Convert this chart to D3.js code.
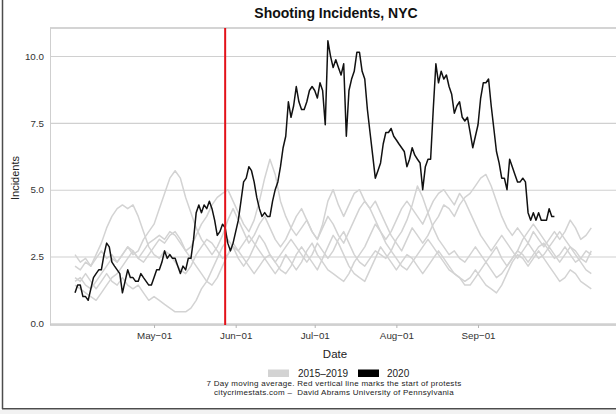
<!DOCTYPE html>
<html><head><meta charset="utf-8">
<script src="https://cdn.jsdelivr.net/npm/d3@7"></script>
<style>
body{margin:0;background:#fff;}
svg{display:block;font-family:"Liberation Sans",Arial,Helvetica,sans-serif;}
</style>
</head><body><svg id="chart" width="616" height="414"></svg>
<script>
const chartTitle = "Shooting Incidents, NYC";
const yTitle = "Incidents";
const xTitle = "Date";
const start2020 = "2020-04-01";
const values2020 = [
1.14,1.43,1.43,1.0,1.0,0.86,1.29,1.71,1.86,2.0,
2.0,2.57,3.0,2.86,2.29,2.14,2.0,1.86,1.14,1.57,
2.0,1.71,1.71,1.57,1.57,1.86,1.71,1.57,1.43,1.43,
1.71,2.0,2.0,2.29,2.71,2.43,2.57,2.43,2.43,2.14,
1.86,2.14,2.0,2.43,2.43,3.14,4.14,4.43,4.14,4.43,
4.29,4.57,4.29,3.86,3.29,3.43,3.71,3.57,3.0,2.71,
3.0,3.43,3.86,4.57,5.29,5.43,5.86,5.71,5.29,4.71,
4.29,4.0,4.14,4.0,4.0,4.57,5.0,5.29,5.86,6.57,
7.0,8.29,7.71,8.14,8.86,8.29,8.0,8.0,8.29,8.71,
8.86,8.71,8.43,9.0,8.71,7.43,10.57,10.0,9.57,9.86,
9.57,9.29,9.71,7.0,8.71,9.14,9.43,10.14,10.14,9.43,
9.14,8.0,7.14,6.29,5.43,5.71,6.0,6.71,7.14,7.14,
7.29,7.0,6.86,6.71,6.57,6.43,5.86,6.14,6.57,6.29,
6.14,6.0,5.0,5.86,6.14,6.14,8.0,9.71,9.0,9.43,
9.14,9.29,8.86,8.57,7.86,8.14,8.29,7.71,7.57,7.71,
7.14,6.57,7.0,7.43,8.43,9.0,9.0,9.14,8.14,7.29,
6.43,6.0,5.43,5.43,5.0,6.14,5.86,5.57,5.29,5.29,
5.43,5.29,4.14,3.86,4.14,3.86,4.14,3.86,3.86,3.86,
4.29,4.0,4.0];

const grayStart = "2020-04-01";
const grayStepDays = 2;
const grayYears = ["2015","2016","2017","2018","2019"];
const gray2015 = [
2.57,2.29,2.43,2.14,2.57,3.0,3.57,4.0,4.29,4.43,
4.29,4.43,4.0,3.43,2.86,2.57,2.43,2.71,2.57,2.29,
2.0,1.86,2.14,2.57,2.86,3.14,3.0,2.71,2.43,2.57,
2.86,2.71,3.0,3.29,3.0,2.71,2.43,2.57,2.29,2.57,
2.86,3.14,2.86,2.57,2.29,2.57,3.0,2.71,2.43,2.71,
3.14,3.43,3.0,2.57,2.29,2.14,2.43,2.71,2.57,2.43,
2.71,3.14,3.43,3.86,4.43,5.14,4.71,4.14,3.57,3.14,
2.86,2.57,2.71,2.43,2.29,2.57,2.86,2.57,2.29,2.57,
2.86,2.43,2.14,2.43,2.71,2.57,2.29,2.57,2.86,3.0,
2.71,2.43,2.57,2.86,2.57,2.29,2.43,2.71,2.57];
const gray2016 = [
2.14,2.0,2.29,2.14,2.43,2.71,2.43,2.57,2.29,2.57,
2.86,2.57,2.71,3.14,3.43,3.71,4.29,4.86,5.43,5.71,
5.43,4.71,4.14,3.57,3.14,2.86,2.57,2.86,3.29,3.86,
4.29,3.86,3.43,3.0,3.29,3.71,4.0,3.57,3.14,2.86,
3.14,3.57,4.0,4.29,3.86,3.43,3.14,3.57,4.0,3.71,
3.29,3.0,3.43,3.86,4.29,4.57,4.29,3.86,3.43,3.14,
3.43,3.86,4.29,4.57,4.29,4.0,3.71,4.14,4.57,4.86,
5.0,4.71,4.43,4.86,4.57,4.14,3.71,3.29,3.0,2.71,
3.0,3.29,3.0,2.71,2.43,2.71,3.0,2.71,2.43,2.57,
2.86,2.57,2.29,2.57,2.86,2.71,2.43,2.29,2.71];
const gray2017 = [
1.71,1.57,1.86,1.57,1.29,1.57,1.86,1.57,1.43,1.71,
1.43,1.29,1.43,1.14,0.86,1.0,0.86,0.71,0.57,0.43,
0.43,0.43,0.57,0.86,1.29,1.57,2.0,2.43,2.86,3.14,
2.86,2.43,2.14,2.43,2.86,3.29,3.0,2.57,2.29,2.0,
1.86,2.14,2.57,2.86,2.57,2.29,2.0,2.43,2.86,3.29,
3.0,2.57,2.14,1.86,1.71,1.57,2.0,2.43,2.86,2.57,
2.29,2.0,2.29,2.57,2.43,2.14,1.86,2.14,2.43,2.71,
2.43,2.14,1.86,1.71,1.57,1.71,2.0,1.71,1.43,1.29,
1.14,1.43,1.86,2.29,2.57,2.43,2.14,2.43,2.71,2.43,
2.14,1.86,1.57,1.71,2.0,1.86,1.57,1.43,1.29];
const gray2018 = [
1.57,1.71,1.43,1.29,1.57,1.86,2.14,2.43,2.29,2.57,
2.86,2.71,2.43,2.71,3.0,3.14,3.29,3.14,3.43,3.29,
3.0,2.71,2.86,3.29,3.71,4.0,4.43,4.71,4.86,5.0,
4.57,4.14,3.71,3.43,3.86,4.57,5.43,6.14,5.57,4.57,
4.0,3.57,3.29,3.57,3.86,3.43,3.14,3.71,4.57,5.0,
4.43,4.0,4.43,4.86,5.0,4.57,4.29,4.57,4.14,3.71,
3.29,3.0,2.71,3.14,3.57,3.29,3.0,3.29,3.71,4.0,
4.43,4.29,4.0,4.43,4.71,4.86,5.14,5.43,5.57,5.14,
4.57,4.0,3.57,3.29,3.57,3.29,3.0,3.43,3.14,2.86,
3.14,3.43,3.14,3.43,3.86,3.57,3.14,3.29,3.57];
const gray2019 = [
1.43,1.29,1.14,1.0,0.86,1.14,1.43,1.71,1.86,2.14,
2.43,2.71,2.43,2.29,2.57,2.86,3.14,3.0,3.29,3.43,
3.14,2.71,2.43,2.14,1.86,1.57,1.43,1.71,2.14,2.57,
3.0,2.71,2.43,2.14,1.86,2.14,2.43,2.14,1.86,2.14,
2.57,2.29,2.0,2.29,2.71,3.0,2.57,2.29,2.0,1.86,
1.71,1.57,1.86,2.29,2.57,2.86,3.29,3.71,3.43,3.0,
2.71,2.43,2.14,2.0,2.29,2.57,2.86,3.14,2.86,2.57,
2.29,2.0,1.86,1.71,1.43,1.43,1.71,2.0,2.29,2.0,
1.71,1.86,2.14,2.43,2.71,3.14,3.43,3.71,3.43,3.14,
2.86,3.14,3.43,3.14,2.86,2.57,2.29,2.0,1.86];

const protestDate = "2020-05-28";
const xTickDates = ["2020-05-01","2020-06-01","2020-07-01","2020-08-01","2020-09-01"];
const xTickLabels = ["May\u221201","Jun\u221201","Jul\u221201","Aug\u221201","Sep\u221201"];
const yTicks = [0, 2.5, 5, 7.5, 10];
const yTickLabels = ["0.0","2.5","5.0","7.5","10.0"];
const legendLabels = ["2015\u20132019","2020"];
const legendColors = ["#d3d3d3","#000000"];
const captionLines = [
  "7 Day moving average. Red vertical line marks the start of protests",
  "citycrimestats.com \u2013  David Abrams University of Pennsylvania"
];

const parse = d3.utcParse("%Y-%m-%d");
const DAY = 86400000;
const svg = d3.select("#chart");

const x = d3.scaleUtc()
  .domain([new Date(Date.UTC(2020,2,22,12)), new Date(Date.UTC(2020,9,24,21,36))])
  .range([50, 620]);
const y = d3.scaleLinear().domain([0, 11.05]).range([323.3, 28]);

// outer frame
svg.append("rect").attr("x",0).attr("y",410).attr("width",616).attr("height",4).attr("fill","#f2f2f2");
svg.append("line").attr("x1",2.5).attr("x2",2.5).attr("y1",0).attr("y2",409)
  .attr("stroke","#4d4d4d").attr("stroke-width",1.5);
svg.append("line").attr("x1",2).attr("x2",616).attr("y1",408.7).attr("y2",408.7)
  .attr("stroke","#4d4d4d").attr("stroke-width",1.5);

// gridlines
const gy = d3.axisLeft(y).tickValues(yTicks).tickSize(-(620-50)).tickFormat("");
const gridG = svg.append("g").attr("transform","translate(50,0)").call(gy);
gridG.select(".domain").remove();
gridG.selectAll("line").attr("stroke","#d0d0d0").attr("stroke-width",1.1);

// panel frame lines
svg.append("line").attr("x1",50).attr("x2",620).attr("y1",28).attr("y2",28)
  .attr("stroke","#a9a9a9").attr("stroke-width",1.1);
svg.append("line").attr("x1",50.5).attr("x2",50.5).attr("y1",28).attr("y2",325)
  .attr("stroke","#cfcfcf").attr("stroke-width",1);
svg.append("line").attr("x1",50).attr("x2",620).attr("y1",325).attr("y2",325)
  .attr("stroke","#c4c4c4").attr("stroke-width",1.6);

// y tick labels
const ay = d3.axisLeft(y).tickValues(yTicks).tickSize(0).tickPadding(6)
  .tickFormat((d,i)=>yTickLabels[i]);
const ayG = svg.append("g").attr("transform","translate(50,0)").call(ay);
ayG.select(".domain").remove();
ayG.selectAll("text").attr("font-size","9.8px").attr("fill","#333")
  .attr("font-family",'"Liberation Sans",Arial,sans-serif');

// x axis
const xt = xTickDates.map(parse);
const ax = d3.axisBottom(x).tickValues(xt).tickSize(3).tickPadding(4)
  .tickFormat((d,i)=>xTickLabels[i]);
const axG = svg.append("g").attr("transform","translate(0,325)").call(ax);
axG.select(".domain").remove();
axG.selectAll("line").attr("stroke","#b5b5b5");
axG.selectAll("text").attr("font-size","9.8px").attr("fill","#333")
  .attr("font-family",'"Liberation Sans",Arial,sans-serif');

// lines
const line = d3.line().x(d=>x(d.date)).y(d=>y(d.v));
const grayList = [gray2015, gray2016, gray2017, gray2018, gray2019];
const g0 = parse(grayStart).getTime();
grayList.forEach((arr, k) => {
  const pts = arr.map((v,i)=>({date:new Date(g0 + i*grayStepDays*DAY), v}));
  svg.append("path").datum(pts).attr("d",line)
    .attr("fill","none").attr("stroke","#d3d3d3").attr("stroke-width",1.5)
    .attr("stroke-linejoin","round").attr("data-year",grayYears[k]);
});
const b0 = parse(start2020).getTime();
const pts2020 = values2020.map((v,i)=>({date:new Date(b0 + i*DAY), v}));
svg.append("path").datum(pts2020).attr("d",line)
  .attr("fill","none").attr("stroke","#111").attr("stroke-width",1.5)
  .attr("stroke-linejoin","round");

// protest line
const px = x(parse(protestDate));
svg.append("line").attr("x1",px).attr("x2",px).attr("y1",28).attr("y2",325)
  .attr("stroke","#e3121a").attr("stroke-width",2);

// titles
svg.append("text").attr("x",336).attr("y",18).attr("text-anchor","middle")
  .attr("font-size","14px").attr("font-weight","bold").attr("fill","#111").text(chartTitle);
svg.append("text").attr("transform","translate(19,178) rotate(-90)").attr("text-anchor","middle")
  .attr("font-size","11px").attr("fill","#222").text(yTitle);
svg.append("text").attr("x",335).attr("y",358).attr("text-anchor","middle")
  .attr("font-size","11.5px").attr("fill","#222").text(xTitle);

// legend
const lg = svg.append("g");
const legendX = [268, 358];
const legendTextX = [298, 387];
legendLabels.forEach((lab,i)=>{
  lg.append("rect").attr("x",legendX[i]).attr("y",369.5).attr("width",21).attr("height",7.5)
    .attr("fill",legendColors[i]);
  lg.append("text").attr("x",legendTextX[i]).attr("y",377).attr("font-size","10px")
    .attr("fill","#222").text(lab);
});

// caption
captionLines.forEach((c,i)=>{
  svg.append("text").attr("x",334).attr("y",385.6+i*9.3).attr("text-anchor","middle")
    .attr("font-size","8px").attr("letter-spacing","0.28px").attr("fill","#222")
    .style("white-space","pre").text(c);
});
</script>
</body></html>
